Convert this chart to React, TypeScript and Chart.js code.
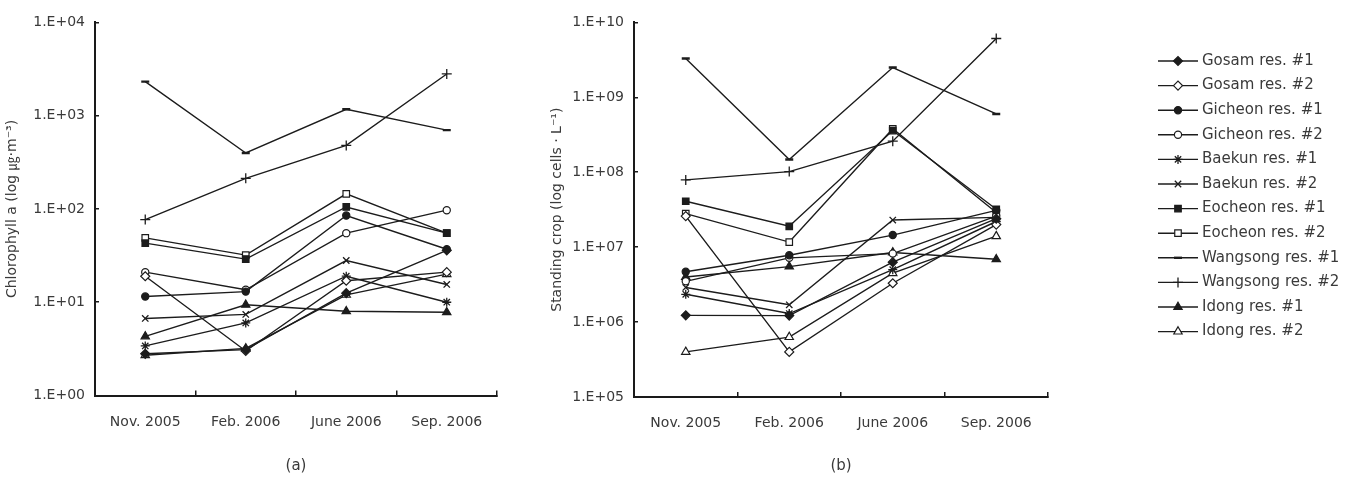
import React, { useEffect, useRef } from 'react';
import { Chart, registerables } from 'chart.js';
import { drawPoint } from 'chart.js/helpers';

Chart.register(...registerables);

// ---------- data ----------
const categories = ['Nov. 2005', 'Feb. 2006', 'June 2006', 'Sep. 2006'];

const seriesNames = [
  'Gosam res. #1', 'Gosam res. #2', 'Gicheon res. #1', 'Gicheon res. #2',
  'Baekun res. #1', 'Baekun res. #2', 'Eocheon res. #1', 'Eocheon res. #2',
  'Wangsong res. #1', 'Wangsong res. #2', 'Idong res. #1', 'Idong res. #2',
];

// (a) Chlorophyll a (㎍·m⁻³)
const chlGosam1 = [2.8, 3.1, 12.5, 36];
const chlGosam2 = [19, 3.0, 17, 21];
const chlGicheon1 = [11.5, 13, 85, 37];
const chlGicheon2 = [21, 13.6, 55, 97];
const chlBaekun1 = [3.4, 6.0, 19, 10];
const chlBaekun2 = [6.7, 7.4, 28, 15.5];
const chlEocheon1 = [43, 29, 105, 55];
const chlEocheon2 = [49, 32, 145, 55];
const chlWangsong1 = [2320, 398, 1170, 700];
const chlWangsong2 = [77, 213, 480, 2800];
const chlIdong1 = [4.3, 9.4, 8.0, 7.8];
const chlIdong2 = [2.7, 3.2, 12, 20];

// (b) Standing crop (cells · L⁻¹)
const cellGosam1 = [1.23e6, 1.22e6, 6.3e6, 2.4e7];
const cellGosam2 = [2.6e7, 4.0e5, 3.3e6, 2.0e7];
const cellGicheon1 = [4.7e6, 7.8e6, 1.45e7, 3.1e7];
const cellGicheon2 = [3.5e6, 7.2e6, 8.2e6, 2.6e7];
const cellBaekun1 = [2.35e6, 1.3e6, 5.0e6, 2.2e7];
const cellBaekun2 = [2.9e6, 1.7e6, 2.3e7, 2.5e7];
const cellEocheon1 = [4.1e7, 1.9e7, 3.6e8, 3.2e7];
const cellEocheon2 = [2.8e7, 1.17e7, 3.8e8, 2.9e7];
const cellWangsong1 = [3.3e9, 1.48e8, 2.5e9, 6.0e8];
const cellWangsong2 = [7.9e7, 1.02e8, 2.6e8, 6.1e9];
const cellIdong1 = [4.0e6, 5.5e6, 8.5e6, 6.9e6];
const cellIdong2 = [4.0e5, 6.3e5, 4.5e6, 1.4e7];

const yTickValuesA = [1, 10, 100, 1000, 10000];
const yTickLabelsA = ['1.E+00', '1.E+01', '1.E+02', '1.E+03', '1.E+04'];
const yTickValuesB = [1e5, 1e6, 1e7, 1e8, 1e9, 1e10];
const yTickLabelsB = ['1.E+05', '1.E+06', '1.E+07', '1.E+08', '1.E+09', '1.E+10'];

const yTitleA = 'Chlorophyll a (log ㎍·m⁻³)';
const yTitleB = 'Standing crop (log cells · L⁻¹)';
const xTitleA = '(a)';
const xTitleB = '(b)';

// ---------- styles ----------
const fontFamily = '"DejaVu Sans", "Noto Sans CJK KR", sans-serif';
const lineColor = '#1c1c1c';
const axisColor = '#1a1a1a';
const textColor = '#3a3a3a';

const pointStyles = ['rectRot', 'rectRot', 'circle', 'circle', 'star', 'crossRot', 'rect', 'rect', 'line', 'cross', 'triangle', 'triangle'];
const pointFilled = [true, false, true, false, true, true, true, false, true, true, true, false];
const pointRadii = [4.5, 4.5, 3.6, 3.6, 4.5, 4.5, 4.6, 4.6, 4, 5, 4.8, 4.8];
const pointBorderWidths = [1.2, 1.2, 1.2, 1.2, 1.3, 1.3, 1.2, 1.2, 2.4, 1.3, 1.2, 1.2];

function makeDatasets(values: number[][]) {
  return values.map((data, i) => ({
    label: seriesNames[i],
    data,
    borderColor: lineColor,
    borderWidth: 1.4,
    pointStyle: pointStyles[i],
    pointRadius: pointRadii[i],
    pointBackgroundColor: pointFilled[i] ? lineColor : '#ffffff',
    pointBorderColor: lineColor,
    pointBorderWidth: pointBorderWidths[i],
    tension: 0,
    fill: false,
  }));
}

const legendPlugin = {
  id: 'sideLegend',
  afterDraw(chart: any) {
    const ctx = chart.ctx;
    const x0 = 613, x1 = 653, xm = 633, xt = 657;
    const top = 61, step = 24.6;
    ctx.save();
    chart.data.datasets.forEach((ds: any, i: number) => {
      const y = top + i * step;
      ctx.strokeStyle = lineColor;
      ctx.lineWidth = 1.4;
      ctx.beginPath();
      ctx.moveTo(x0, y);
      ctx.lineTo(x1, y);
      ctx.stroke();
      ctx.fillStyle = ds.pointBackgroundColor;
      ctx.strokeStyle = lineColor;
      ctx.lineWidth = ds.pointBorderWidth;
      drawPoint(ctx, { pointStyle: ds.pointStyle, radius: ds.pointRadius, borderWidth: ds.pointBorderWidth, rotation: 0 }, xm, y);
      ctx.fillStyle = textColor;
      ctx.font = `15px ${fontFamily}`;
      ctx.textAlign = 'left';
      ctx.textBaseline = 'middle';
      ctx.fillText(ds.label, xt, y);
    });
    ctx.restore();
  },
};

function makeOptions(p: any) {
  return {
    responsive: false,
    maintainAspectRatio: false,
    animation: false,
    events: [],
    layout: { padding: { left: 0, top: p.top, right: p.right, bottom: 0 } },
    plugins: { legend: { display: false }, tooltip: { enabled: false }, title: { display: false } },
    scales: {
      x: {
        type: 'category',
        offset: true,
        grid: { offset: true, drawOnChartArea: false, drawTicks: true, tickLength: -5, color: axisColor, lineWidth: 1.5 },
        border: { display: true, color: axisColor, width: 2 },
        ticks: { color: textColor, font: { family: fontFamily, size: 14 }, padding: 23, maxRotation: 0, autoSkip: false },
        title: { display: true, text: p.xTitle, color: textColor, font: { family: fontFamily, size: 15 }, padding: { top: 0, bottom: 2 } },
        afterFit: (s: any) => { s.height = p.xHeight; },
      },
      y: {
        type: 'logarithmic',
        min: p.min,
        max: p.max,
        afterBuildTicks: (s: any) => { s.ticks = p.tickValues.map((v: number) => ({ value: v, major: true })); },
        grid: { drawOnChartArea: false, drawTicks: true, tickLength: -4, color: axisColor, lineWidth: 1.5 },
        border: { display: true, color: axisColor, width: 2 },
        ticks: {
          color: textColor,
          font: { family: fontFamily, size: 14 },
          padding: 14,
          autoSkip: false,
          callback: (v: any) => {
            const i = p.tickValues.findIndex((t: number) => Math.abs(t - Number(v)) / t < 1e-6);
            return i >= 0 ? p.tickLabels[i] : '';
          },
        },
        title: { display: true, text: p.yTitle, color: textColor, font: { family: fontFamily, size: 14 }, padding: { top: 3.6, bottom: 0 } },
        afterFit: (s: any) => { s.width = p.yWidth; },
      },
    },
  };
}

export default function App() {
  const refA = useRef<HTMLCanvasElement>(null);
  const refB = useRef<HTMLCanvasElement>(null);

  useEffect(() => {
    const chartA = new Chart(refA.current as HTMLCanvasElement, {
      type: 'line',
      data: {
        labels: categories,
        datasets: makeDatasets([
          chlGosam1, chlGosam2, chlGicheon1, chlGicheon2, chlBaekun1, chlBaekun2,
          chlEocheon1, chlEocheon2, chlWangsong1, chlWangsong2, chlIdong1, chlIdong2,
        ]) as any,
      },
      options: makeOptions({
        top: 17, right: 48, yWidth: 95, xHeight: 81.5,
        min: 1, max: 10000, tickValues: yTickValuesA, tickLabels: yTickLabelsA,
        yTitle: yTitleA, xTitle: xTitleA,
      }) as any,
    });
    const chartB = new Chart(refB.current as HTMLCanvasElement, {
      type: 'line',
      data: {
        labels: categories,
        datasets: makeDatasets([
          cellGosam1, cellGosam2, cellGicheon1, cellGicheon2, cellBaekun1, cellBaekun2,
          cellEocheon1, cellEocheon2, cellWangsong1, cellWangsong2, cellIdong1, cellIdong2,
        ]) as any,
      },
      options: makeOptions({
        top: 17, right: 311, yWidth: 89, xHeight: 80,
        min: 1e5, max: 1e10, tickValues: yTickValuesB, tickLabels: yTickLabelsB,
        yTitle: yTitleB, xTitle: xTitleB,
      }) as any,
      plugins: [legendPlugin as any],
    });
    return () => {
      chartA.destroy();
      chartB.destroy();
    };
  }, []);

  return (
    <div style={{ position: 'absolute', left: 0, top: 0, width: 1359, height: 477, background: '#ffffff', overflow: 'hidden' }}>
      <canvas ref={refA} width={545} height={477} style={{ position: 'absolute', left: 0, top: 0, width: 545, height: 477 }} />
      <canvas ref={refB} width={814} height={477} style={{ position: 'absolute', left: 545, top: 0, width: 814, height: 477 }} />
    </div>
  );
}
